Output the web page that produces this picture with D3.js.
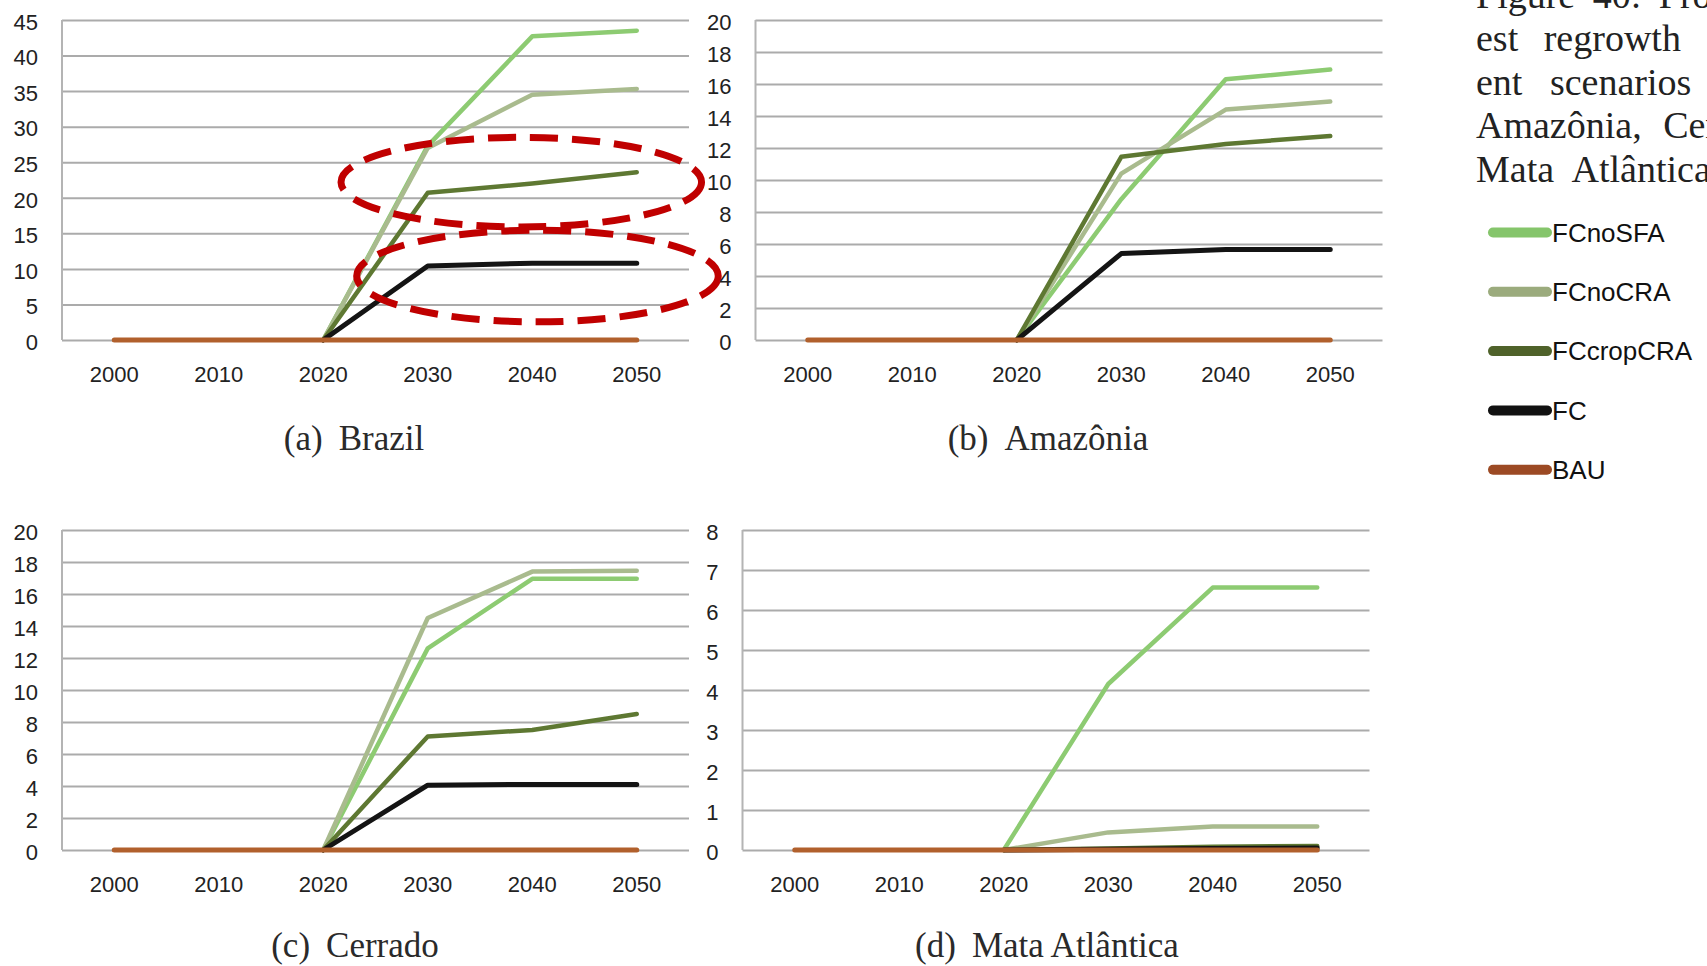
<!DOCTYPE html>
<html>
<head>
<meta charset="utf-8">
<script src="https://cdn.jsdelivr.net/npm/d3@7"></script>
<style>
  html, body { margin: 0; padding: 0; background: #fff; overflow: hidden; }
  svg { display: block; }
</style>
</head>
<body>
<div id="chart"></div>
<script>
// --- data ---
const years = [2000, 2010, 2020, 2030, 2040, 2050];
const scenarios = ['FCnoSFA', 'FCnoCRA', 'FCcropCRA', 'FC', 'BAU'];
const regionNames = ['(a)|Brazil', '(b)|Amazônia', '(c)|Cerrado', '(d)|Mata Atlântica'];
const yMaxes = [45, 20, 20, 8];
const yStepSizes = [5, 2, 2, 1];

// values per scenario, same order as `scenarios`
const brazilValues = [
  [null, null, 0, 27.3, 42.7, 43.5],
  [null, null, 0, 27.0, 34.5, 35.3],
  [null, null, 0, 20.7, 22.0, 23.6],
  [null, null, 0, 10.4, 10.8, 10.8],
  [0, 0, 0, 0, 0, 0]
];
const amazoniaValues = [
  [null, null, 0, 8.8, 16.3, 16.9],
  [null, null, 0, 10.4, 14.4, 14.9],
  [null, null, 0, 11.45, 12.25, 12.75],
  [null, null, 0, 5.4, 5.65, 5.65],
  [0, 0, 0, 0, 0, 0]
];
const cerradoValues = [
  [null, null, 0, 12.6, 16.95, 16.95],
  [null, null, 0, 14.5, 17.4, 17.45],
  [null, null, 0, 7.1, 7.5, 8.5],
  [null, null, 0, 4.05, 4.1, 4.1],
  [0, 0, 0, 0, 0, 0]
];
const mataValues = [
  [null, null, 0, 4.15, 6.56, 6.56],
  [null, null, 0, 0.44, 0.59, 0.59],
  [null, null, 0, 0.04, 0.08, 0.1],
  [null, null, 0, 0.02, 0.04, 0.05],
  [0, 0, 0, 0, 0, 0]
];
const regionValues = [brazilValues, amazoniaValues, cerradoValues, mataValues];

// dashed highlight rings on the Brazil panel: centre (year, value) and radii (years, value)
const ringCentres = [[2038.95, 22.2], [2040.5, 9.0]];
const ringRadii = [[17.25, 6.3], [17.3, 6.45]];

const captionLines = [
  'Figure 40: Projected for-',
  'est regrowth for differ-',
  'ent scenarios in Brazil,',
  'Amazônia, Cerrado and',
  'Mata Atlântica.'
];

// --- styling ---
const lineColors = ['#8dcb72', '#a9bb8e', '#5e7832', '#141414', '#b1602c'];
const legendColors = ['#85c56b', '#9bab7d', '#4f622a', '#111111', '#9c4a24'];

const width = 1707, height = 966;
const plotW = 627, plotH = 320;
const panels = [
  { x: 62, y: 20, titleX: 354, titleY: 450 },
  { x: 755.5, y: 20, titleX: 1048, titleY: 450 },
  { x: 62, y: 530, titleX: 355, titleY: 957 },
  { x: 742.5, y: 530, titleX: 1047, titleY: 957 }
];

const svg = d3.select('#chart').append('svg')
  .attr('width', width)
  .attr('height', height)
  .attr('viewBox', [0, 0, width, height]);

const x = d3.scalePoint().domain(years).range([0, plotW]).padding(0.5);
const yearLinear = d3.scaleLinear().domain([2000, 2050]).range([x(2000), x(2050)]);

panels.forEach((p, i) => {
  const g = svg.append('g').attr('transform', `translate(${p.x},${p.y})`);
  const y = d3.scaleLinear().domain([0, yMaxes[i]]).range([plotH, 0]);
  const ticks = d3.range(0, yMaxes[i] + yStepSizes[i] / 2, yStepSizes[i]);

  // gridlines + y labels
  g.append('g')
    .call(d3.axisLeft(y).tickValues(ticks).tickSize(-plotW).tickPadding(24).tickFormat(d3.format('d')))
    .call(a => {
      a.select('.domain').remove();
      a.selectAll('.tick line').attr('stroke', '#ababab').attr('stroke-width', 2);
      a.selectAll('.tick text')
        .attr('fill', '#222')
        .attr('font-family', 'Liberation Sans, Arial, sans-serif')
        .attr('font-size', 22)
        .attr('dy', '0.42em');
    });

  // left axis
  g.append('line')
    .attr('x1', 0).attr('x2', 0)
    .attr('y1', 0).attr('y2', plotH)
    .attr('stroke', '#b4b4b4')
    .attr('stroke-width', 2);

  // x labels
  g.append('g').selectAll('text')
    .data(years)
    .join('text')
    .attr('x', d => x(d))
    .attr('y', plotH + 34)
    .attr('dy', '0.36em')
    .attr('text-anchor', 'middle')
    .attr('fill', '#222')
    .attr('font-family', 'Liberation Sans, Arial, sans-serif')
    .attr('font-size', 22)
    .text(d => d);

  // series
  const line = d3.line()
    .defined(d => d[1] != null)
    .x(d => x(d[0]))
    .y(d => y(d[1]));

  g.append('g').selectAll('path')
    .data(regionValues[i])
    .join('path')
    .attr('d', vals => line(years.map((yr, k) => [yr, vals[k]])))
    .attr('fill', 'none')
    .attr('stroke', (d, k) => lineColors[k])
    .attr('stroke-width', (d, k) => k >= 3 ? 5 : 4.5)
    .attr('stroke-linejoin', 'round')
    .attr('stroke-linecap', 'round');

  // subcaption
  const [tag, name] = regionNames[i].split('|');
  const t = svg.append('text')
    .attr('x', p.titleX)
    .attr('y', p.titleY)
    .attr('text-anchor', 'middle')
    .attr('fill', '#2a2a2a')
    .attr('font-family', 'Liberation Serif, Times New Roman, serif')
    .attr('font-size', 35);
  t.append('tspan').text(tag);
  t.append('tspan').attr('dx', 16).text(name);

  // highlight rings (Brazil only)
  if (i === 0) {
    g.append('g').selectAll('ellipse')
      .data(ringCentres)
      .join('ellipse')
      .attr('cx', d => yearLinear(d[0]))
      .attr('cy', d => y(d[1]))
      .attr('rx', (d, k) => yearLinear(d[0] + ringRadii[k][0]) - yearLinear(d[0]))
      .attr('ry', (d, k) => y(0) - y(ringRadii[k][1]))
      .attr('fill', 'none')
      .attr('stroke', '#c00000')
      .attr('stroke-width', 7)
      .attr('stroke-dasharray', '28 14');
  }
});

// legend
const legend = svg.append('g').attr('transform', 'translate(1493,232.5)');
const item = legend.selectAll('g')
  .data(scenarios)
  .join('g')
  .attr('transform', (d, k) => `translate(0,${k * 59.3})`);
item.append('line')
  .attr('x1', 0).attr('x2', 54)
  .attr('stroke', (d, k) => legendColors[k])
  .attr('stroke-width', 10)
  .attr('stroke-linecap', 'round');
item.append('text')
  .attr('x', 59)
  .attr('dy', '0.36em')
  .attr('fill', '#111')
  .attr('font-family', 'Liberation Sans, Arial, sans-serif')
  .attr('font-size', 26)
  .text(d => d);

// figure caption (cut off at the right edge, as in the source page)
svg.append('g').selectAll('text')
  .data(captionLines)
  .join('text')
  .attr('x', 1476)
  .attr('y', (d, k) => 8 + k * 43.4)
  .attr('fill', '#222')
  .attr('font-family', 'Liberation Serif, Times New Roman, serif')
  .attr('font-size', 38)
  .attr('word-spacing', (d, k) => [8, 16, 18, 12, 10][k])
  .text(d => d);
</script>
</body>
</html>
